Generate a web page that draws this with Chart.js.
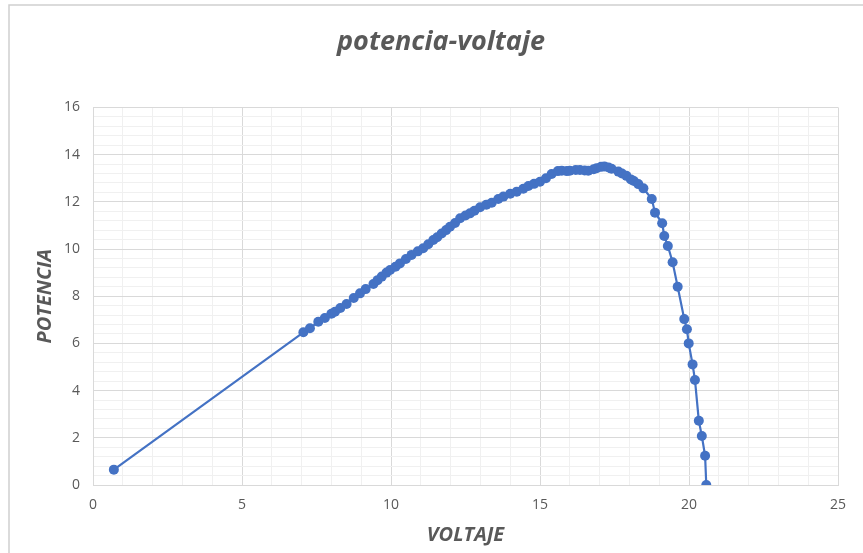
<!DOCTYPE html>
<html>
<head>
<meta charset="utf-8">
<script src="https://cdn.jsdelivr.net/npm/chart.js@4"></script>
<style>
  html, body { margin: 0; padding: 0; background: #fff; }
  #wrap { width: 863px; height: 553px; position: relative; }
</style>
</head>
<body>
<div id="wrap"><canvas id="pvChart" width="863" height="553"></canvas></div>
<script>
// data (voltaje, potencia)
const voltaje = [0.70, 7.06, 7.28, 7.56, 7.78, 8.00, 8.12, 8.30, 8.51, 8.75, 8.96, 9.15, 9.41, 9.55, 9.69, 9.85,
  9.97, 10.15, 10.30, 10.50, 10.69, 10.90, 11.08, 11.25, 11.42, 11.55, 11.70, 11.85, 11.98, 12.15, 12.32,
  12.50, 12.65, 12.80, 12.99, 13.20, 13.38, 13.60, 13.77, 14.00, 14.22, 14.44, 14.61, 14.80, 15.00, 15.20,
  15.39, 15.60, 15.73, 15.90, 16.00, 16.20, 16.34, 16.50, 16.62, 16.80, 16.90, 17.05, 17.16, 17.30, 17.40,
  17.63, 17.75, 17.90, 18.05, 18.15, 18.30, 18.47, 18.75, 18.86, 19.10, 19.17, 19.29, 19.45, 19.62, 19.84,
  19.93, 19.99, 20.12, 20.20, 20.33, 20.43, 20.54, 20.58];
const potencia = [0.65, 6.47, 6.64, 6.92, 7.08, 7.26, 7.34, 7.50, 7.67, 7.92, 8.12, 8.30, 8.52, 8.68, 8.83, 9.00,
  9.11, 9.25, 9.39, 9.58, 9.75, 9.90, 10.03, 10.20, 10.38, 10.50, 10.66, 10.80, 10.94, 11.10, 11.30,
  11.42, 11.51, 11.62, 11.77, 11.88, 11.96, 12.12, 12.22, 12.34, 12.43, 12.55, 12.67, 12.76, 12.85, 13.00,
  13.18, 13.30, 13.32, 13.30, 13.32, 13.35, 13.35, 13.33, 13.32, 13.38, 13.42, 13.48, 13.50, 13.45, 13.40,
  13.28, 13.20, 13.10, 12.95, 12.88, 12.75, 12.57, 12.12, 11.54, 11.09, 10.55, 10.13, 9.44, 8.40, 7.03,
  6.60, 6.00, 5.11, 4.45, 2.72, 2.08, 1.24, 0.00];
const xMajorTicks = [0, 5, 10, 15, 20, 25];
const yMajorTicks = [0, 2, 4, 6, 8, 10, 12, 14, 16];

const blue = '#4472C4';
const textGray = '#595959';
const majorGrid = '#d9d9d9';
const minorGrid = '#f0f0f0';

const points = voltaje.map((v, i) => ({ x: v, y: potencia[i] }));

function isMajor(list, v) {
  return list.some(t => Math.abs(t - v) < 1e-6);
}

// light frame like the original chart area edge
const framePlugin = {
  id: 'frame',
  beforeDraw(chart) {
    const c = chart.ctx;
    c.save();
    c.fillStyle = '#fff';
    c.fillRect(0, 0, chart.width, chart.height);
    c.strokeStyle = '#d0d0d0';
    c.lineWidth = 1.5;
    c.beginPath();
    c.moveTo(9, chart.height);
    c.lineTo(9, 5);
    c.lineTo(chart.width, 5);
    c.stroke();
    c.restore();
  }
};

const ctx = document.getElementById('pvChart').getContext('2d');
const pvChart = new Chart(ctx, {
  type: 'scatter',
  data: {
    datasets: [{
      label: 'potencia',
      data: points,
      showLine: true,
      borderColor: blue,
      backgroundColor: blue,
      borderWidth: 2.2,
      pointRadius: 5,
      pointHoverRadius: 5,
      pointBorderWidth: 0
    }]
  },
  options: {
    responsive: false,
    animation: false,
    layout: { padding: { left: 44, right: 25, top: 0, bottom: 0 } },
    plugins: {
      legend: { display: false },
      tooltip: { enabled: false },
      title: {
        display: true,
        text: 'potencia-voltaje',
        color: textGray,
        font: { family: 'Open Sans', size: 27, weight: 'bold', style: 'italic' },
        padding: { top: 26, bottom: 49 }
      }
    },
    scales: {
      x: {
        type: 'linear',
        min: 0,
        max: 25,
        afterBuildTicks: s => {
          s.ticks = [];
          for (let v = 0; v <= 25; v++) s.ticks.push({ value: v });
        },
        afterFit: s => { s.height = 68; },
        grid: {
          drawTicks: false,
          color: c => isMajor(xMajorTicks, c.tick.value) ? majorGrid : minorGrid,
          lineWidth: 1
        },
        border: { display: true, color: majorGrid },
        ticks: {
          autoSkip: false,
          maxRotation: 0,
          padding: 12,
          color: textGray,
          font: { family: 'Open Sans', size: 14 },
          callback: v => isMajor(xMajorTicks, v) ? String(v) : ''
        },
        title: {
          display: true,
          text: 'VOLTAJE',
          color: textGray,
          font: { family: 'Open Sans', size: 20, weight: 'bold', style: 'italic' },
          padding: { top: 6, bottom: 6 }
        }
      },
      y: {
        type: 'linear',
        min: 0,
        max: 16,
        afterBuildTicks: s => {
          s.ticks = [];
          for (let i = 0; i <= 40; i++) s.ticks.push({ value: Math.round(i * 0.4 * 10) / 10 });
        },
        afterFit: s => { s.width = 49; },
        grid: {
          drawTicks: false,
          color: c => isMajor(yMajorTicks, c.tick.value) ? majorGrid : minorGrid,
          lineWidth: 1
        },
        border: { display: true, color: majorGrid },
        ticks: {
          autoSkip: false,
          padding: 13,
          color: textGray,
          font: { family: 'Open Sans', size: 14 },
          callback: v => isMajor(yMajorTicks, v) ? String(v) : ''
        },
        title: {
          display: true,
          text: 'POTENCIA',
          color: textGray,
          font: { family: 'Open Sans', size: 20, weight: 'bold', style: 'italic' },
          padding: { top: -11, bottom: -11 }
        }
      }
    }
  },
  plugins: [framePlugin]
});
</script>
</body>
</html>
